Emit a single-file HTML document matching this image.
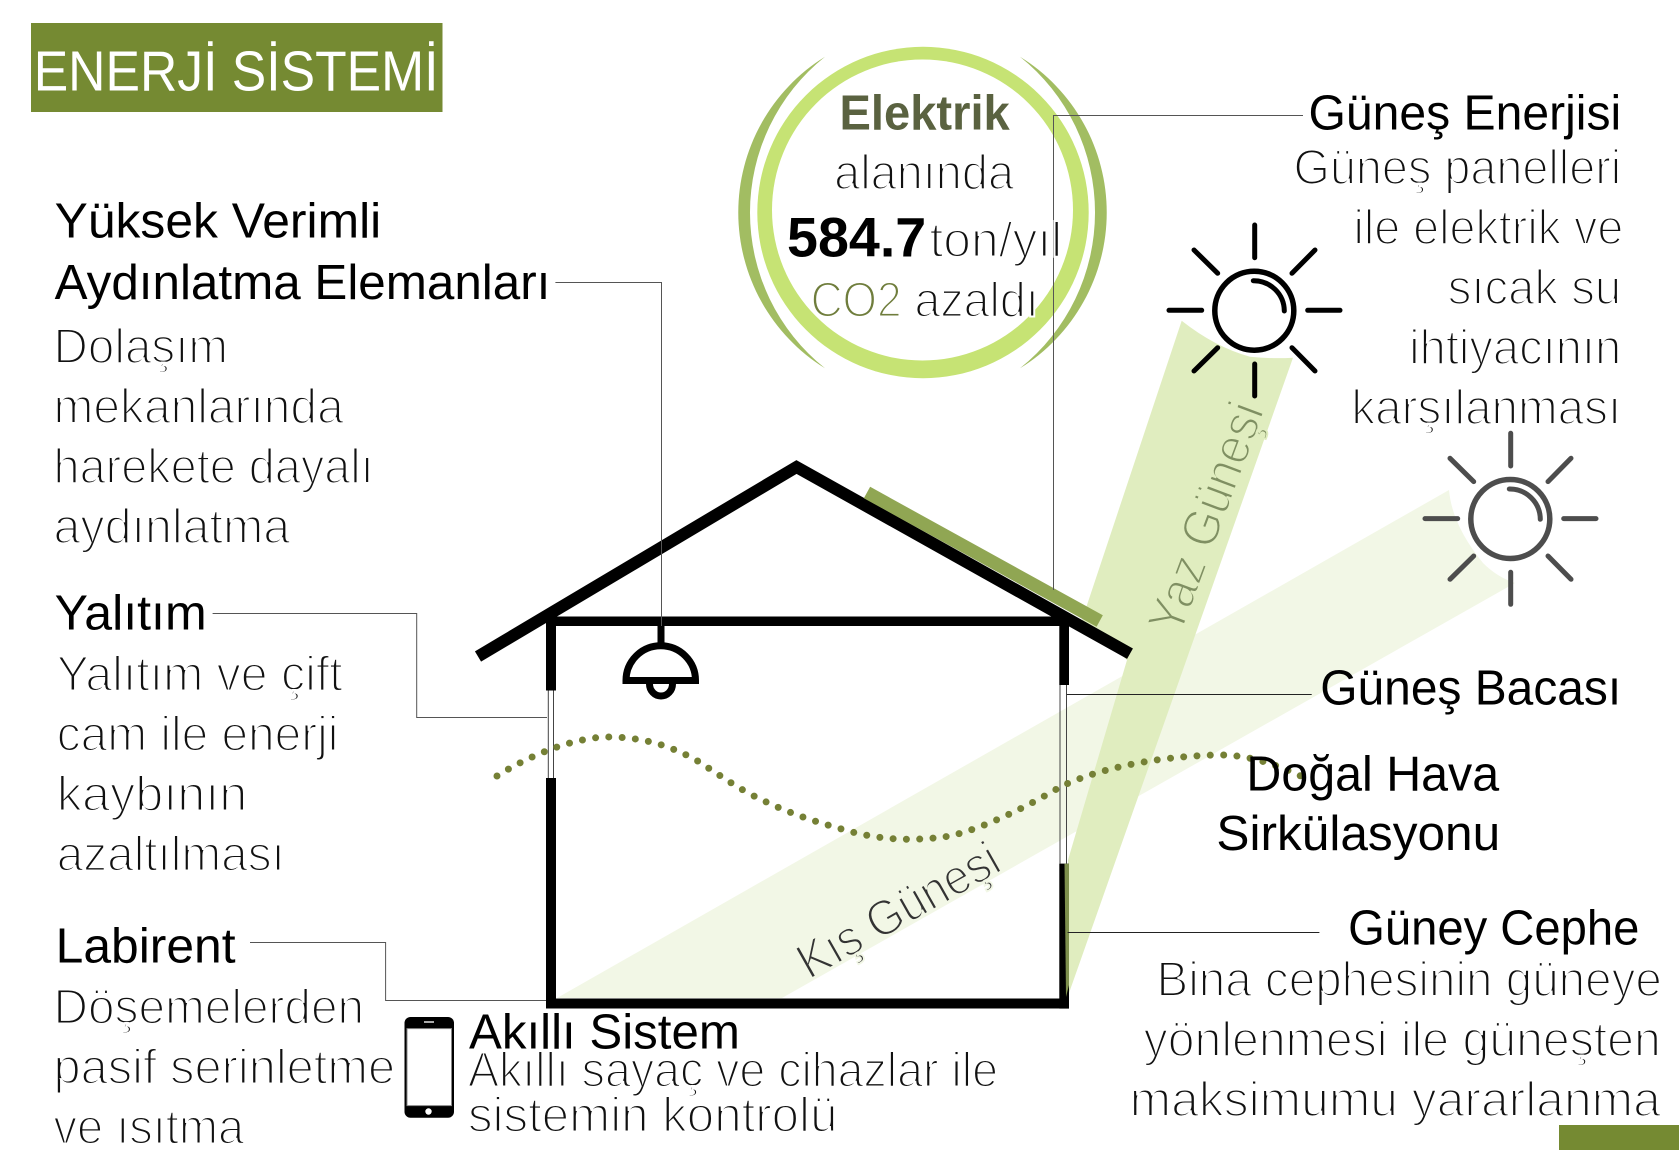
<!DOCTYPE html>
<html lang="tr">
<head>
<meta charset="utf-8">
<title>Enerji Sistemi</title>
<style>
html,body{margin:0;padding:0;background:#fff;width:1679px;height:1150px;overflow:hidden}
svg{display:block}
text{font-family:"Liberation Sans",sans-serif;font-size:46px}
.h{fill:#000}
.t{fill:#111;stroke:#fff;stroke-width:1.9px}
.b{font-weight:bold}
</style>
</head>
<body>
<svg xmlns="http://www.w3.org/2000/svg" width="1679" height="1150" viewBox="0 0 1679 1150">
<rect width="1679" height="1150" fill="#fff"/>
<rect x="31" y="23" width="411.5" height="89" fill="#758a32"/>
<rect x="1559" y="1125" width="120" height="25" fill="#758a32"/>

<!-- sun beams -->
<path d="M1449,490 Q1452,525 1483,563 Q1497,577 1515,583 L782,998 L557,998 Z" fill="#f2f7e6"/>
<path d="M1181.7,320.7 Q1215,347 1250,356.7 Q1272,359 1293,357.7 L1067.6,997 L1068,860 L1127,660 L1082,620 Z" fill="#e0edbf"/>

<!-- energy rings -->
<circle cx="923" cy="212.5" r="165.7" fill="#c6e374"/>
<circle cx="922.5" cy="210" r="150.5" fill="#fff"/>
<path d="M825,56.7 A183.3,183.3 0 0 0 825,368.3 A199.3,199.3 0 0 1 825,56.7 Z" fill="#a2bd62"/>
<path d="M1020,56.7 A183.3,183.3 0 0 1 1020,368.3 A199.3,199.3 0 0 0 1020,56.7 Z" fill="#a2bd62"/>

<!-- house -->
<g fill="#000">
<rect x="546" y="616.5" width="523" height="9.5"/>
<rect x="546" y="616.5" width="10" height="74"/>
<rect x="546" y="778" width="10" height="230"/>
<rect x="1059.3" y="616.5" width="9.7" height="68.5"/>
<rect x="1059.3" y="863.6" width="9.7" height="145"/>
<rect x="546" y="998.5" width="523" height="10"/>
</g>
<path d="M1064.5,863.6 H1069 V985 L1066,997 Z" fill="#7d8f4c"/>
<g stroke="#444" stroke-width="1" fill="none">
<path d="M548.3,690.5 V778 M553.5,690.5 V778"/>
<path d="M1060,685 V863.6 M1066.5,685 V863.6"/>
</g>
<polyline points="478,656.5 796.5,467 1130,653.7" fill="none" stroke="#000" stroke-width="12" stroke-linejoin="miter"/>
<line x1="867" y1="492.5" x2="1099.7" y2="621" stroke="#90a653" stroke-width="13"/>

<!-- lamp -->
<g fill="none" stroke="#000" stroke-width="7">
<line x1="661" y1="625" x2="661" y2="645"/>
<path d="M626,680.5 A34.7,34.7 0 0 1 695.5,680.5 Z"/>
<path d="M649.5,684 A11.5,12 0 0 0 672.5,684"/>
</g>

<!-- connectors -->
<g fill="none" stroke="#555" stroke-width="1">
<path d="M555.4,282.5 H661.5 V626"/>
<path d="M212.6,613.5 H416.7 V717.5 H547"/>
<path d="M250,942.5 H385.6 V1000.5 H546"/>
<path d="M1303,115.5 H1053.5 V590"/>
</g>
<g fill="none" stroke="#222" stroke-width="1">
<path d="M1066.7,694.5 H1311.7"/>
<path d="M1067.6,932.5 H1319.4"/>
</g>

<!-- suns -->
<g fill="none" stroke="#000" stroke-linecap="round">
<circle cx="1254.3" cy="310.7" r="39.5" stroke-width="5.5"/>
<path d="M1253.3,280.7 A30.5,30.5 0 0 1 1284.3,311" stroke-width="5"/>
<path stroke-width="5" d="M1254.7,225 V257.7 M1254.7,364 V396 M1169,310.3 H1201.7 M1307.7,310.3 H1340 M1194,250 L1217.7,273.3 M1315,250 L1292,273.3 M1194,371 L1217.7,347.7 M1315,371 L1292,347.7"/>
</g>
<g fill="none" stroke="#4d4d4d" stroke-linecap="round" transform="translate(256,208.3)">
<circle cx="1254.3" cy="310.7" r="39.5" stroke-width="5.5"/>
<path d="M1253.3,280.7 A30.5,30.5 0 0 1 1284.3,311" stroke-width="5"/>
<path stroke-width="5" d="M1254.7,225 V257.7 M1254.7,364 V396 M1169,310.3 H1201.7 M1307.7,310.3 H1340 M1194,250 L1217.7,273.3 M1315,250 L1292,273.3 M1194,371 L1217.7,347.7 M1315,371 L1292,347.7"/>
</g>

<!-- phone -->
<rect x="404.5" y="1017" width="49.5" height="100.7" rx="6" fill="#000"/>
<rect x="407" y="1028.6" width="44.5" height="77" fill="#fff" stroke="#888" stroke-width="1"/>
<circle cx="428.5" cy="1111.5" r="3.2" fill="#fff"/>
<rect x="424" y="1021" width="10" height="2" fill="#aaa"/>

<!-- rotated beam labels -->
<text transform="translate(1180,637) rotate(-69.5)" style="font-size:52px;fill:#7f8f62;stroke:#e0edbf;stroke-width:1.9px" textLength="242" lengthAdjust="spacingAndGlyphs">Yaz Güneşi</text>
<text transform="translate(809,980) rotate(-29.5)" style="font-size:50px;fill:#333;stroke:#f2f7e6;stroke-width:1.9px" textLength="224" lengthAdjust="spacingAndGlyphs">Kış Güneşi</text>

<!-- dotted air flow -->
<path d="M497,776 C535,752 580,736 612,737 C648,738 672,747 696,760 C715,772 730,783 750,794 C785,812 810,820 838,828 C870,838 905,843 950,836 C985,828 1030,805 1060,787 C1095,770 1150,757 1215,755 C1250,754 1280,766 1307,779" fill="none" stroke="#758035" stroke-width="7" stroke-linecap="round" stroke-dasharray="0 13.3"/>

<!-- text -->
<g transform="scale(1.0708)">
<text x="31.5" y="84.6" style="font-size:53px;fill:#fff" textLength="378" lengthAdjust="spacingAndGlyphs">ENERJİ SİSTEMİ</text>

<text class="h" x="51" y="222" textLength="305" lengthAdjust="spacingAndGlyphs">Yüksek Verimli</text>
<text class="h" x="51" y="279" textLength="463" lengthAdjust="spacingAndGlyphs">Aydınlatma Elemanları</text>
<text class="t" x="50" y="339" textLength="163" lengthAdjust="spacingAndGlyphs">Dolaşım</text>
<text class="t" x="50" y="395" textLength="271" lengthAdjust="spacingAndGlyphs">mekanlarında</text>
<text class="t" x="50" y="451" textLength="299" lengthAdjust="spacingAndGlyphs">harekete dayalı</text>
<text class="t" x="50" y="507" textLength="221" lengthAdjust="spacingAndGlyphs">aydınlatma</text>

<text class="h" x="51" y="588" textLength="142" lengthAdjust="spacingAndGlyphs">Yalıtım</text>
<text class="t" x="53" y="645" textLength="267" lengthAdjust="spacingAndGlyphs">Yalıtım ve çift</text>
<text class="t" x="53" y="701" textLength="263" lengthAdjust="spacingAndGlyphs">cam ile enerji</text>
<text class="t" x="53" y="757" textLength="178" lengthAdjust="spacingAndGlyphs">kaybının</text>
<text class="t" x="53" y="813" textLength="213" lengthAdjust="spacingAndGlyphs">azaltılması</text>

<text class="h" x="52" y="899" textLength="168" lengthAdjust="spacingAndGlyphs">Labirent</text>
<text class="t" x="50" y="956" textLength="290" lengthAdjust="spacingAndGlyphs">Döşemelerden</text>
<text class="t" x="50" y="1012" textLength="319" lengthAdjust="spacingAndGlyphs">pasif serinletme</text>
<text class="t" x="50" y="1068" textLength="178" lengthAdjust="spacingAndGlyphs">ve ısıtma</text>

<text class="h" x="438" y="979" textLength="253" lengthAdjust="spacingAndGlyphs">Akıllı Sistem</text>
<text class="t" x="437" y="1014.5" textLength="495" lengthAdjust="spacingAndGlyphs">Akıllı sayaç ve cihazlar ile</text>
<text class="t" x="437" y="1056.5" textLength="345" lengthAdjust="spacingAndGlyphs">sistemin kontrolü</text>

<text class="b" x="784" y="120.8" style="font-size:46px;fill:#5a6240" textLength="159" lengthAdjust="spacingAndGlyphs">Elektrik</text>
<text class="t" x="779" y="176.5" textLength="168" lengthAdjust="spacingAndGlyphs">alanında</text>
<text class="b h" x="735" y="239.7" style="font-size:52px" textLength="130" lengthAdjust="spacingAndGlyphs">584.7</text>
<text class="t" x="868" y="239.7" textLength="124" lengthAdjust="spacingAndGlyphs">ton/yıl</text>
<text class="t" x="757" y="295.7" style="fill:#6f7d3c" textLength="85" lengthAdjust="spacingAndGlyphs">CO2</text>
<text class="t" x="854" y="295.7" textLength="116" lengthAdjust="spacingAndGlyphs">azaldı</text>

<text class="h" x="1222" y="121" textLength="292" lengthAdjust="spacingAndGlyphs">Güneş Enerjisi</text>
<text class="t" x="1208" y="172" textLength="306" lengthAdjust="spacingAndGlyphs">Güneş panelleri</text>
<text class="t" x="1264" y="228" textLength="252" lengthAdjust="spacingAndGlyphs">ile elektrik ve</text>
<text class="t" x="1352" y="284" textLength="162" lengthAdjust="spacingAndGlyphs">sıcak su</text>
<text class="t" x="1316" y="340" textLength="198" lengthAdjust="spacingAndGlyphs">ihtiyacının</text>
<text class="t" x="1262" y="396" textLength="252" lengthAdjust="spacingAndGlyphs">karşılanması</text>

<text class="h" x="1233" y="658" textLength="281" lengthAdjust="spacingAndGlyphs">Güneş Bacası</text>
<text class="h" x="1164" y="738" textLength="236" lengthAdjust="spacingAndGlyphs">Doğal Hava</text>
<text class="h" x="1136" y="794" textLength="265" lengthAdjust="spacingAndGlyphs">Sirkülasyonu</text>
<text class="h" x="1259" y="882" textLength="272" lengthAdjust="spacingAndGlyphs">Güney Cephe</text>
<text class="t" x="1080" y="930" textLength="472" lengthAdjust="spacingAndGlyphs">Bina cephesinin güneye</text>
<text class="t" x="1068" y="986" textLength="483" lengthAdjust="spacingAndGlyphs">yönlenmesi ile güneşten</text>
<text class="t" x="1055" y="1042" textLength="496" lengthAdjust="spacingAndGlyphs">maksimumu yararlanma</text>
</g>
</svg>
</body>
</html>
